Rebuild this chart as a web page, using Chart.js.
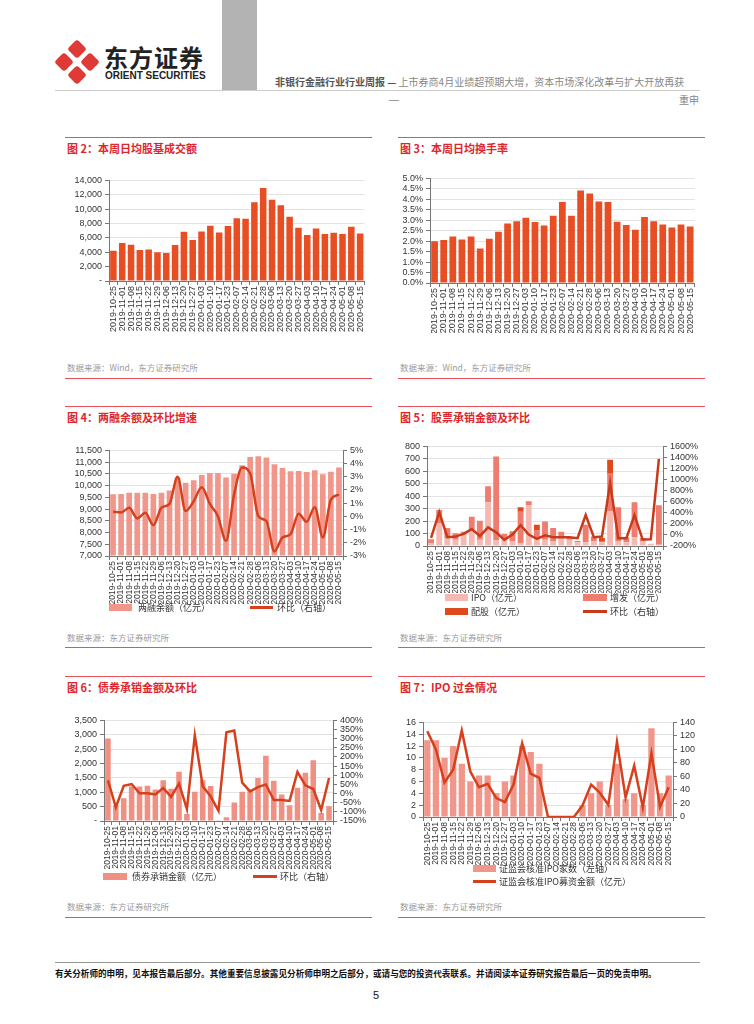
<!DOCTYPE html>
<html>
<head>
<meta charset="utf-8">
<script src="https://cdn.jsdelivr.net/npm/chart.js@4.4.0/dist/chart.umd.min.js"></script>
<style>
body { margin:0; width:754px; height:1024px; position:relative; background:#fff; overflow:hidden;
  font-family: Arial, "Liberation Sans", "Noto Sans CJK SC", sans-serif; }
canvas { position:absolute; }
.t { position:absolute; white-space:nowrap; line-height:1; }
.rl { position:absolute; height:1px; background:#E8505A; }
.ttl { position:absolute; color:#E0262C; font-weight:bold; font-size:11px; line-height:1; white-space:nowrap;
  font-family: "Noto Sans CJK SC", sans-serif; }
.src { position:absolute; color:#9b9b9b; font-size:8.5px; line-height:1; white-space:nowrap;
  font-family: "Noto Sans CJK SC", sans-serif; }
.lgt { position:absolute; color:#333; font-size:9px; line-height:1; white-space:nowrap;
  font-family: "Noto Sans CJK SC", sans-serif; }
.sw { position:absolute; }
</style>
</head>
<body>

<!-- header -->
<svg class="t" style="left:55px;top:40px" width="44" height="44" viewBox="0 0 44 44">
  <g fill="#E03A36">
    <rect x="15" y="2" width="14" height="14" rx="3" transform="rotate(45 22 9)"/>
    <rect x="15" y="28" width="14" height="14" rx="3" transform="rotate(45 22 35)"/>
    <rect x="2" y="15" width="14" height="14" rx="3" transform="rotate(45 9 22)"/>
    <rect x="28" y="15" width="14" height="14" rx="3" transform="rotate(45 35 22)"/>
  </g>
</svg>
<div class="t" style="left:104px;top:45px;font-size:24px;font-weight:bold;color:#222;font-family:'Noto Sans CJK SC';letter-spacing:1px">东方证券</div>
<div class="t" style="left:105px;top:71px;font-size:10px;font-weight:bold;color:#222">ORIENT SECURITIES</div>
<div class="t" style="left:222px;top:0;width:35px;height:90px;background:#b3b3b3"></div>
<div class="t" style="left:275px;top:77px;font-size:10px;color:#888;font-family:'Noto Sans CJK SC'"><b style="color:#555">非银行金融行业行业周报 —</b> 上市券商4月业绩超预期大增，资本市场深化改革与扩大开放再获</div>
<div class="t" style="left:55px;top:90px;width:645px;height:1px;background:#ccc"></div>
<div class="t" style="left:389px;top:95px;font-size:10px;color:#888">—</div>
<div class="t" style="left:679px;top:95px;font-size:10px;color:#888;font-family:'Noto Sans CJK SC'">重申</div>

<!-- panel frames -->
<div class="rl" style="left:65px;top:137px;width:307px"></div>
<div class="rl" style="left:398px;top:137px;width:307px"></div>
<div class="rl" style="left:65px;top:378px;width:307px"></div>
<div class="rl" style="left:398px;top:378px;width:307px"></div>
<div class="rl" style="left:65px;top:406px;width:307px"></div>
<div class="rl" style="left:398px;top:406px;width:307px"></div>
<div class="rl" style="left:65px;top:647px;width:307px"></div>
<div class="rl" style="left:398px;top:647px;width:307px"></div>
<div class="rl" style="left:65px;top:676px;width:307px"></div>
<div class="rl" style="left:398px;top:676px;width:307px"></div>
<div class="rl" style="left:65px;top:917px;width:307px"></div>
<div class="rl" style="left:398px;top:917px;width:307px"></div>

<div class="ttl" style="left:67px;top:143px">图 2：本周日均股基成交额</div>
<div class="ttl" style="left:400px;top:143px">图 3：本周日均换手率</div>
<div class="ttl" style="left:67px;top:412px">图 4：两融余额及环比增速</div>
<div class="ttl" style="left:400px;top:412px">图 5：股票承销金额及环比</div>
<div class="ttl" style="left:67px;top:682px">图 6：债券承销金额及环比</div>
<div class="ttl" style="left:400px;top:682px">图 7：IPO 过会情况</div>

<div class="src" style="left:67px;top:363px">数据来源：Wind，东方证券研究所</div>
<div class="src" style="left:400px;top:363px">数据来源：Wind，东方证券研究所</div>
<div class="src" style="left:67px;top:633px">数据来源：东方证券研究所</div>
<div class="src" style="left:400px;top:633px">数据来源：东方证券研究所</div>
<div class="src" style="left:67px;top:902px">数据来源：东方证券研究所</div>
<div class="src" style="left:400px;top:902px">数据来源：东方证券研究所</div>

<canvas id="c2" width="312" height="160" style="left:60px;top:172px"></canvas>
<canvas id="c3" width="312" height="163" style="left:390px;top:170px"></canvas>
<canvas id="c4" width="310" height="162" style="left:60px;top:442px"></canvas>
<canvas id="c5" width="312" height="155" style="left:390px;top:438px"></canvas>
<canvas id="c6" width="310" height="158" style="left:60px;top:712px"></canvas>
<canvas id="c7" width="310" height="153" style="left:390px;top:714px"></canvas>

<!-- legends -->
<div class="sw" style="left:109px;top:604px;width:23px;height:7px;background:#F0968B"></div>
<div class="lgt" style="left:138px;top:603px">两融余额（亿元）</div>
<div class="sw" style="left:250px;top:606px;width:23px;height:3px;background:#D6401C"></div>
<div class="lgt" style="left:277px;top:603px">环比（右轴）</div>

<div class="sw" style="left:445px;top:594px;width:23px;height:7px;background:#F6B9B2"></div>
<div class="lgt" style="left:471px;top:593px">IPO（亿元）</div>
<div class="sw" style="left:583px;top:594px;width:24px;height:7px;background:#EE7D70"></div>
<div class="lgt" style="left:610px;top:593px">增发（亿元）</div>
<div class="sw" style="left:445px;top:608px;width:23px;height:7px;background:#DE4A1E"></div>
<div class="lgt" style="left:471px;top:607px">配股（亿元）</div>
<div class="sw" style="left:583px;top:610px;width:24px;height:3px;background:#C93A1B"></div>
<div class="lgt" style="left:610px;top:607px">环比（右轴）</div>

<div class="sw" style="left:103px;top:873px;width:24px;height:7px;background:#F09083"></div>
<div class="lgt" style="left:132px;top:872px">债券承销金额（亿元）</div>
<div class="sw" style="left:253px;top:875px;width:24px;height:3px;background:#D6401C"></div>
<div class="lgt" style="left:280px;top:872px">环比（右轴）</div>

<div class="sw" style="left:473px;top:865px;width:23px;height:7px;background:#F0968B"></div>
<div class="lgt" style="left:499px;top:864px">证监会核准IPO家数（左轴）</div>
<div class="sw" style="left:473px;top:880px;width:23px;height:3px;background:#D6401C"></div>
<div class="lgt" style="left:499px;top:877px">证监会核准IPO募资金额（亿元）</div>

<!-- footer -->
<div class="t" style="left:55px;top:962px;width:645px;height:1px;background:#999"></div>
<div class="t" style="left:55px;top:969px;font-size:8.6px;font-weight:bold;color:#111;font-family:'Noto Sans CJK SC'">有关分析师的申明，见本报告最后部分。其他重要信息披露见分析师申明之后部分，或请与您的投资代表联系。并请阅读本证券研究报告最后一页的免责申明。</div>
<div class="t" style="left:373px;top:990px;font-size:11px;color:#111">5</div>

<script>
// categories (weekly)
const weeks = ['2019-10-25', '2019-11-01', '2019-11-08', '2019-11-15', '2019-11-22', '2019-11-29',
  '2019-12-06', '2019-12-13', '2019-12-20', '2019-12-27', '2020-01-03', '2020-01-10', '2020-01-17',
  '2020-01-23', '2020-02-07', '2020-02-14', '2020-02-21', '2020-02-28', '2020-03-06', '2020-03-13',
  '2020-03-20', '2020-03-27', '2020-04-03', '2020-04-10', '2020-04-17', '2020-04-24', '2020-05-01',
  '2020-05-08', '2020-05-15'];

// fig 2: daily avg turnover (亿元)
const turnoverAmt = [4200, 5300, 5050, 4300, 4400, 4000, 3900, 5000, 6850, 5700, 6900, 7700, 6750, 7650,
  8750, 8650, 10950, 12950, 11300, 10550, 8950, 7400, 6400, 7300, 6550, 6700, 6550, 7550, 6600];

// fig 3: daily avg turnover rate (%)
const turnoverRate = [2.00, 2.05, 2.22, 2.08, 2.22, 1.65, 2.12, 2.45, 2.85, 2.95, 3.12, 2.92, 2.75, 3.22,
  3.87, 3.22, 4.42, 4.28, 3.90, 3.87, 2.93, 2.77, 2.55, 3.15, 2.95, 2.80, 2.65, 2.80, 2.70];

// fig 4: margin balance and w/w change
const marginBal = [9630, 9640, 9700, 9690, 9700, 9640, 9700, 9790, 10340, 10120, 10230, 10450, 10540,
  10540, 10340, 10500, 10870, 11220, 11250, 11200, 10910, 10750, 10610, 10620, 10580, 10650, 10480,
  10590, 10770];
const marginChg = [0.35, 0.3, 0.65, -0.15, 0.27, -0.67, 0.65, 0.95, 3.0, 0.4, 1.15, 2.2, 0.95, 0.02,
  -1.85, 1.65, 3.7, 3.25, 0.02, -0.35, -2.65, -1.6, -1.35, 0.2, -0.4, 0.7, -1.6, 1.27, 1.65];

// fig 5: equity underwriting (亿元) and change (%)
const ipoAmt = [25, 180, 60, 50, 100, 136, 50, 352, 45, 60, 40, 25, 325, 55, 50, 40, 80, 50, 30, 30,
  40, 30, 280, 40, 30, 70, 40, 18, 10];
const seoAmt = [30, 110, 85, 52, 15, 98, 152, 128, 674, 37, 78, 250, 35, 73, 147, 105, 35, 20, 10, 140,
  36, 5, 300, 272, 40, 282, 25, 0, 318];
const rightsAmt = [0, 0, 0, 0, 0, 0, 0, 0, 0, 0, 0, 37, 0, 42, 0, 0, 0, 0, 0, 0, 0, 30, 113, 0, 0, 0,
  0, 0, 0];
const equityChg = [-53, 413, -41, -30, 18, 106, -18, 136, 47, -89, 6, 177, 6, -71, -6, -41, -41, -41,
  -59, 360, -41, -30, 944, -59, -59, 360, -83, -77, 1375];

// fig 6: bond underwriting (亿元) and change (%)
const bondAmt = [2870, 550, 790, 1210, 1200, 1230, 1100, 1420, 1120, 1710, 240, 1020, 1420, 1220, 30,
  130, 640, 1020, 1100, 1500, 2270, 1400, 920, 550, 1160, 1680, 2110, 280, 510];
const bondChg = [72, -75, 42, 52, 2, 2, -5, 30, -18, 55, -85, 318, 40, -15, -95, 335, 345, 60, 12, 35,
  50, -35, -35, -40, 118, 45, 25, -90, 85];

// fig 7: IPO approvals
const ipoCount = [13, 13, 10, 12, 9, 6, 7, 7, 4, 6, 7, 12, 11, 9, 0, 0, 0, 0, 2, 4, 6, 2, 9, 3, 4, 2,
  15, 4, 7];
const ipoRaise = [127, 100, 51, 70, 128, 67, 44, 49, 28, 22, 48, 109, 64, 58, 0, 0, 0, 0, 17, 48, 36,
  18, 111, 29, 76, 14, 94, 15, 44];

const numFont = { family: 'Arial, "Liberation Sans"', size: 9 };
const lblFont = { family: 'Arial, "Liberation Sans"', size: 8.5 };
const gridColor = '#e3e3e3';
const axisColor = '#777';

Chart.defaults.animation = false;
Chart.defaults.responsive = false;
Chart.defaults.plugins.legend.display = false;
Chart.defaults.plugins.tooltip.enabled = false;
Chart.defaults.color = '#333';

const fmtNum = v => v === 0 ? '-' : v.toLocaleString('en-US');

function xAxis(h, size) {
  return {
    stacked: true,
    ticks: { autoSkip: false, minRotation: 90, maxRotation: 90, font: { ...lblFont, size }, padding: 1 },
    grid: { drawOnChartArea: false, tickLength: 4, color: axisColor, offset: true },
    border: { color: axisColor },
    afterFit: s => { s.height = h; }
  };
}
function yAxis(w, min, max, step, cb, pos, grid) {
  return {
    position: pos || 'left',
    min, max,
    ticks: { stepSize: step, autoSkip: false, font: numFont, callback: cb, padding: 3 },
    grid: { drawOnChartArea: grid !== false, color: gridColor, tickLength: 4, tickColor: axisColor },
    border: { color: axisColor },
    afterFit: s => { s.width = w; }
  };
}

// fig 2
new Chart(document.getElementById('c2'), {
  type: 'bar',
  data: { labels: weeks, datasets: [{ data: turnoverAmt, backgroundColor: '#E84E24',
    barPercentage: 0.74, categoryPercentage: 1 }] },
  options: {
    layout: { padding: { right: 4 } },
    scales: { x: xAxis(51, 9), y: yAxis(49, 0, 14000, 2000, fmtNum) }
  }
});

// fig 3
new Chart(document.getElementById('c3'), {
  type: 'bar',
  data: { labels: weeks, datasets: [{ data: turnoverRate, backgroundColor: '#E84E24',
    barPercentage: 0.74, categoryPercentage: 1 }] },
  options: {
    layout: { padding: { right: 3 } },
    scales: { x: xAxis(50, 9), y: yAxis(40, 0, 5, 0.5, v => v.toFixed(1) + '%') }
  }
});

// fig 4
new Chart(document.getElementById('c4'), {
  type: 'bar',
  data: { labels: weeks, datasets: [
    { type: 'line', data: marginChg, yAxisID: 'y1', borderColor: '#D6401C', borderWidth: 2.5,
      pointRadius: 0, tension: 0.4, cubicInterpolationMode: 'monotone' },
    { data: marginBal, base: 7000, backgroundColor: '#F0968B', barPercentage: 0.7, categoryPercentage: 1 }
  ] },
  options: {
    scales: {
      x: xAxis(48, 8.5),
      y: yAxis(49, 7000, 11500, 500, fmtNum),
      y1: yAxis(27, -3, 5, 1, v => v + '%', 'right', false)
    }
  }
});

// fig 5
new Chart(document.getElementById('c5'), {
  type: 'bar',
  data: { labels: weeks, datasets: [
    { type: 'line', data: equityChg, yAxisID: 'y1', borderColor: '#C93A1B', borderWidth: 2.5,
      pointRadius: 0, tension: 0 },
    { data: ipoAmt, backgroundColor: '#F6B9B2', barPercentage: 0.72, categoryPercentage: 1 },
    { data: seoAmt, backgroundColor: '#EE7D70', barPercentage: 0.72, categoryPercentage: 1 },
    { data: rightsAmt, backgroundColor: '#DE4A1E', barPercentage: 0.72, categoryPercentage: 1 }
  ] },
  options: {
    scales: {
      x: xAxis(47, 8.5),
      y: { ...yAxis(37, 0, 800, 100, v => v), stacked: true },
      y1: yAxis(39, -200, 1600, 200, v => v + '%', 'right', false)
    }
  }
});

// fig 6
new Chart(document.getElementById('c6'), {
  type: 'bar',
  data: { labels: weeks, datasets: [
    { type: 'line', data: bondChg, yAxisID: 'y1', borderColor: '#D6401C', borderWidth: 2.5,
      pointRadius: 0, tension: 0 },
    { data: bondAmt, backgroundColor: '#F09083', barPercentage: 0.7, categoryPercentage: 1 }
  ] },
  options: {
    scales: {
      x: xAxis(49, 8.5),
      y: yAxis(44, 0, 3500, 500, fmtNum),
      y1: yAxis(37, -150, 400, 50, v => v + '%', 'right', false)
    }
  }
});

// fig 7
new Chart(document.getElementById('c7'), {
  type: 'bar',
  data: { labels: weeks, datasets: [
    { type: 'line', data: ipoRaise, yAxisID: 'y1', borderColor: '#D6401C', borderWidth: 2.5,
      pointRadius: 0, tension: 0 },
    { data: ipoCount, backgroundColor: '#F0968B', barPercentage: 0.73, categoryPercentage: 1 }
  ] },
  options: {
    scales: {
      x: xAxis(50, 8.5),
      y: yAxis(33, 0, 16, 2, v => v),
      y1: yAxis(27, 0, 140, 20, v => v, 'right', false)
    }
  }
});
</script>
</body>
</html>
